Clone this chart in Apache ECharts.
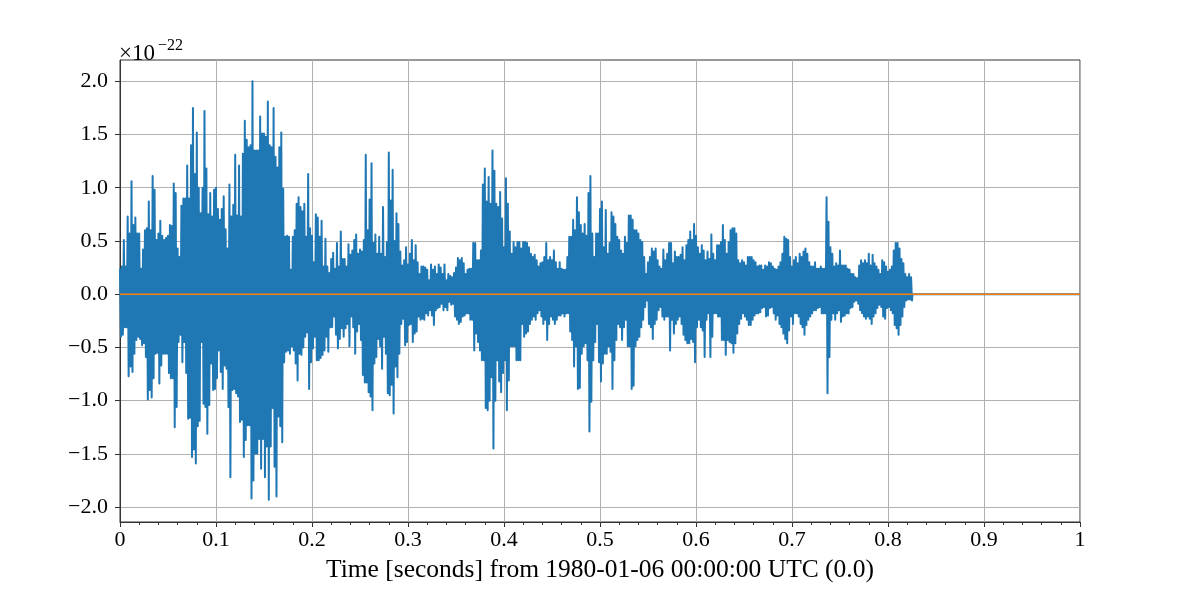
<!DOCTYPE html>
<html>
<head>
<meta charset="utf-8">
<script src="https://cdn.jsdelivr.net/npm/echarts@6/dist/echarts.min.js"></script>
<style>
  html, body { margin: 0; padding: 0; background: #fff; }
  #chart { width: 1200px; height: 600px; }
</style>
</head>
<body>
<div id="chart"></div>
<script>
// ---- data (values in units of 1e-22) ----
const sampleStart = 0;          // seconds
const sampleStep = 0.002;       // seconds between successive crests
const scaleExponent = -22;
const xAxisTitle = 'Time [seconds] from 1980-01-06 00:00:00 UTC (0.0)';
const xTickValues = [0, 0.1, 0.2, 0.3, 0.4, 0.5, 0.6, 0.7, 0.8, 0.9, 1];
const xTickLabels = ['0', '0.1', '0.2', '0.3', '0.4', '0.5', '0.6', '0.7', '0.8', '0.9', '1'];
const yTickValues = [-2, -1.5, -1, -0.5, 0, 0.5, 1, 1.5, 2];
const yTickLabels = ['\u22122.0', '\u22121.5', '\u22121.0', '\u22120.5', '0.0', '0.5', '1.0', '1.5', '2.0'];

// positive crests of the strain signal, one per sampleStep
const upperPeaks = [
  0.24,0.26,0.51,0.26,0.73,0.57,1.06,0.65,0.72,0.57,
  0.57,0.24,0.42,0.60,0.62,0.87,0.60,1.11,0.98,0.51,
  0.57,0.69,0.55,0.51,0.53,0.55,0.65,0.64,1.04,0.95,
  0.43,0.35,0.83,0.90,0.90,1.21,0.90,1.40,1.75,1.13,
  1.52,1.00,0.76,1.00,1.72,1.18,0.75,0.95,0.73,0.98,
  1.00,0.80,0.70,0.80,0.92,0.61,0.43,1.03,0.73,0.84,
  1.31,0.74,1.21,0.73,1.32,1.63,1.45,1.38,1.40,2.00,
  1.35,1.35,1.35,1.67,1.51,1.51,1.48,1.81,1.40,1.38,
  1.75,1.29,1.19,1.38,1.52,0.99,0.54,0.55,0.54,0.23,
  0.54,0.60,0.85,0.91,0.82,0.78,0.85,0.54,1.13,0.62,
  0.55,0.30,0.75,0.72,0.54,0.69,0.26,0.52,0.26,0.20,
  0.33,0.39,0.24,0.48,0.26,0.59,0.33,0.33,0.26,0.47,
  0.37,0.41,0.51,0.56,0.38,0.42,0.40,0.51,1.31,0.60,
  0.89,1.23,0.48,0.56,0.38,0.54,0.38,0.82,0.35,0.49,
  1.33,0.88,1.17,0.50,0.76,0.66,0.40,0.27,0.32,0.44,
  0.28,0.38,0.51,0.32,0.46,0.30,0.19,0.26,0.26,0.25,
  0.23,0.13,0.28,0.23,0.26,0.19,0.28,0.25,0.19,0.28,
  0.13,0.19,0.17,0.16,0.20,0.25,0.34,0.32,0.34,0.29,
  0.19,0.23,0.24,0.24,0.48,0.48,0.32,0.32,0.41,1.03,
  1.18,0.87,1.10,0.85,1.35,1.16,0.85,0.82,0.96,0.71,
  0.44,1.09,0.85,0.59,0.38,0.49,0.44,0.49,0.49,0.43,
  0.49,0.49,0.48,0.44,0.38,0.35,0.37,0.32,0.26,0.29,
  0.30,0.35,0.48,0.32,0.35,0.32,0.41,0.30,0.24,0.30,
  0.24,0.23,0.23,0.35,0.54,0.54,0.70,0.60,0.91,0.77,
  0.65,0.57,0.66,0.55,0.95,1.11,0.57,0.35,0.57,0.57,
  0.80,0.87,0.44,0.79,0.38,0.48,0.77,0.73,0.66,0.54,
  0.51,0.41,0.38,0.54,0.48,0.74,0.74,0.70,0.60,0.60,
  0.57,0.51,0.49,0.35,0.19,0.30,0.35,0.43,0.40,0.43,
  0.32,0.26,0.24,0.42,0.32,0.38,0.48,0.48,0.29,0.40,
  0.35,0.35,0.37,0.44,0.32,0.46,0.51,0.59,0.51,0.66,
  0.55,0.44,0.38,0.46,0.41,0.32,0.40,0.33,0.56,0.38,
  0.32,0.46,0.46,0.49,0.65,0.51,0.38,0.49,0.60,0.62,
  0.62,0.57,0.32,0.29,0.32,0.30,0.27,0.35,0.35,0.35,
  0.32,0.30,0.26,0.27,0.27,0.23,0.27,0.26,0.30,0.29,
  0.26,0.24,0.23,0.26,0.30,0.38,0.54,0.52,0.51,0.35,
  0.26,0.32,0.35,0.29,0.38,0.35,0.40,0.43,0.38,0.30,
  0.26,0.26,0.30,0.24,0.24,0.26,0.24,0.24,0.91,0.68,
  0.44,0.38,0.26,0.29,0.27,0.41,0.27,0.27,0.27,0.24,
  0.23,0.19,0.19,0.16,0.15,0.27,0.32,0.29,0.32,0.29,
  0.38,0.27,0.37,0.29,0.26,0.23,0.19,0.32,0.30,0.26,
  0.21,0.23,0.26,0.41,0.48,0.48,0.43,0.33,0.29,0.19,
  0.16,0.19,0.16
];

// negative troughs, each half a step after the matching crest
const lowerPeaks = [
  -0.40,-0.38,-0.31,-0.31,-0.77,-0.68,-0.73,-0.56,-0.43,-0.40,
  -0.42,-0.48,-0.46,-0.59,-0.99,-0.90,-0.97,-0.79,-0.56,-0.55,
  -0.84,-0.67,-0.56,-0.56,-0.56,-0.74,-0.79,-0.79,-1.25,-1.06,
  -0.45,-0.38,-0.64,-0.45,-0.74,-1.17,-1.16,-1.53,-1.46,-1.59,
  -1.24,-1.19,-0.45,-1.03,-1.06,-1.31,-1.04,-0.65,-0.90,-0.89,
  -0.79,-0.53,-0.73,-0.89,-0.67,-0.70,-1.06,-1.72,-0.90,-0.89,
  -0.93,-0.96,-1.20,-1.18,-1.53,-1.37,-1.23,-1.23,-1.92,-1.75,
  -1.50,-1.50,-1.36,-1.64,-1.36,-1.72,-1.43,-1.93,-1.43,-1.07,
  -1.62,-1.90,-1.15,-1.24,-1.39,-0.64,-0.54,-0.53,-0.56,-0.49,
  -0.53,-0.65,-0.81,-0.56,-0.57,-0.50,-0.40,-0.36,-0.89,-0.64,
  -0.51,-0.40,-0.62,-0.62,-0.60,-0.57,-0.53,-0.40,-0.54,-0.31,
  -0.31,-0.21,-0.38,-0.51,-0.42,-0.32,-0.40,-0.32,-0.28,-0.49,
  -0.21,-0.31,-0.56,-0.35,-0.28,-0.43,-0.76,-0.83,-0.83,-0.92,
  -0.96,-1.09,-0.65,-0.59,-0.42,-0.49,-0.70,-0.40,-0.56,-0.93,
  -0.95,-0.85,-1.12,-0.68,-0.78,-0.56,-0.28,-0.23,-0.48,-0.45,
  -0.29,-0.28,-0.45,-0.37,-0.35,-0.21,-0.24,-0.23,-0.24,-0.18,
  -0.20,-0.15,-0.20,-0.29,-0.15,-0.13,-0.12,-0.09,-0.15,-0.12,
  -0.15,-0.07,-0.10,-0.09,-0.21,-0.24,-0.28,-0.26,-0.21,-0.20,
  -0.18,-0.18,-0.24,-0.24,-0.53,-0.37,-0.45,-0.53,-0.62,-0.62,
  -1.07,-1.09,-1.00,-0.78,-1.45,-1.00,-0.62,-0.82,-0.92,-0.74,
  -0.62,-1.09,-0.81,-0.49,-0.49,-0.49,-0.62,-0.62,-0.62,-0.28,
  -0.40,-0.37,-0.35,-0.28,-0.24,-0.21,-0.24,-0.18,-0.15,-0.21,
  -0.28,-0.24,-0.43,-0.28,-0.21,-0.24,-0.28,-0.24,-0.20,-0.20,
  -0.18,-0.21,-0.18,-0.18,-0.35,-0.43,-0.68,-0.49,-0.89,-0.88,
  -0.56,-0.49,-0.46,-0.62,-1.29,-1.01,-0.62,-0.45,-0.28,-0.64,
  -0.82,-0.65,-0.56,-0.56,-0.49,-0.54,-0.89,-0.62,-0.43,-0.28,
  -0.31,-0.43,-0.31,-0.24,-0.49,-0.49,-0.89,-0.86,-0.49,-0.43,
  -0.40,-0.31,-0.24,-0.12,-0.06,-0.28,-0.31,-0.42,-0.28,-0.24,
  -0.15,-0.12,-0.21,-0.24,-0.21,-0.21,-0.53,-0.24,-0.37,-0.28,
  -0.24,-0.21,-0.28,-0.38,-0.43,-0.46,-0.46,-0.42,-0.45,-0.64,
  -0.31,-0.24,-0.31,-0.34,-0.59,-0.24,-0.18,-0.59,-0.40,-0.18,
  -0.18,-0.21,-0.21,-0.43,-0.43,-0.57,-0.43,-0.45,-0.46,-0.55,
  -0.46,-0.37,-0.28,-0.23,-0.18,-0.21,-0.24,-0.29,-0.29,-0.24,
  -0.20,-0.18,-0.18,-0.17,-0.13,-0.12,-0.21,-0.20,-0.13,-0.12,
  -0.18,-0.24,-0.20,-0.28,-0.31,-0.37,-0.42,-0.46,-0.34,-0.21,
  -0.28,-0.18,-0.18,-0.21,-0.28,-0.31,-0.38,-0.29,-0.24,-0.21,
  -0.18,-0.15,-0.15,-0.13,-0.12,-0.18,-0.18,-0.18,-0.93,-0.59,
  -0.24,-0.18,-0.24,-0.18,-0.15,-0.26,-0.21,-0.20,-0.18,-0.18,
  -0.13,-0.12,-0.07,-0.06,-0.09,-0.15,-0.18,-0.21,-0.23,-0.21,
  -0.23,-0.28,-0.21,-0.18,-0.13,-0.10,-0.12,-0.21,-0.23,-0.13,
  -0.12,-0.15,-0.18,-0.29,-0.32,-0.38,-0.29,-0.21,-0.12,-0.06,
  -0.05,-0.05,-0.06
];

// blue trace is flat (zero padded) after the signal ends
const strainTailTimes = [0.8255, 1];
const strainTailValues = [0, 0];

// second (orange) trace: flat zero over the whole span
const zeroTraceTimes = [0, 1];
const zeroTraceValues = [0, 0];

// ---- build series data ----
const strainData = [];
for (let i = 0; i < upperPeaks.length; i++) {
  const t = sampleStart + i * sampleStep;
  strainData.push([t, upperPeaks[i]]);
  strainData.push([t + sampleStep / 2, lowerPeaks[i]]);
}
strainTailTimes.forEach((t, i) => strainData.push([t, strainTailValues[i]]));
const zeroData = zeroTraceTimes.map((t, i) => [t, zeroTraceValues[i]]);

const FONT = '"Liberation Serif", "DejaVu Serif", serif';
const chart = echarts.init(document.getElementById('chart'), null, { renderer: 'canvas' });

chart.setOption({
  animation: false,
  backgroundColor: '#ffffff',
  title: [
    { text: '\u00d710', left: 119, top: 42, padding: 0,
      textStyle: { fontFamily: FONT, fontSize: 23, lineHeight: 23, fontWeight: 'normal', color: '#000' } },
    { text: '\u2212' + String(-scaleExponent), left: 158, top: 38, padding: 0,
      textStyle: { fontFamily: FONT, fontSize: 16, lineHeight: 16, fontWeight: 'normal', color: '#000' } }
  ],
  grid: {
    left: 120, right: 120, top: 60, bottom: 78,
    containLabel: false, outerBoundsMode: 'none',
    show: true, borderColor: '#333', borderWidth: 1, backgroundColor: 'transparent'
  },
  xAxis: {
    type: 'value',
    min: 0, max: 1, interval: 0.1,
    name: xAxisTitle,
    nameLocation: 'middle',
    nameGap: 35,
    nameTextStyle: { fontFamily: FONT, fontSize: 25.5, lineHeight: 26, color: '#000' },
    axisLine: { show: true, onZero: false, lineStyle: { color: '#333', width: 1 } },
    axisTick: { show: true, inside: false, length: 5, lineStyle: { color: '#333', width: 1 } },
    minorTick: { show: true, splitNumber: 5, length: 3, lineStyle: { color: '#333', width: 1 } },
    axisLabel: {
      margin: 7, fontFamily: FONT, fontSize: 22, color: '#000',
      formatter: v => {
        const k = xTickValues.findIndex(x => Math.abs(x - v) < 1e-9);
        return k >= 0 ? xTickLabels[k] : '';
      }
    },
    splitLine: { show: true, lineStyle: { color: '#b0b0b0', width: 1 } },
    minorSplitLine: { show: false }
  },
  yAxis: {
    type: 'value',
    min: -2.14, max: 2.2, splitNumber: 8,
    axisLine: { show: true, onZero: false, lineStyle: { color: '#333', width: 1 } },
    axisTick: { show: true, inside: false, length: 5, customValues: yTickValues, lineStyle: { color: '#333', width: 1 } },
    axisLabel: {
      margin: 12, fontFamily: FONT, fontSize: 22, color: '#000',
      formatter: v => {
        const k = yTickValues.findIndex(y => Math.abs(y - v) < 1e-9);
        return k >= 0 ? yTickLabels[k] : '';
      }
    },
    splitLine: { show: true, lineStyle: { color: '#b0b0b0', width: 1 } }
  },
  series: [
    {
      type: 'line',
      data: strainData,
      showSymbol: false,
      symbol: 'none',
      sampling: null,
      smooth: false,
      z: 3,
      lineStyle: { color: '#1f77b4', width: 2, join: 'round', cap: 'butt' },
      emphasis: { disabled: true }
    },
    {
      type: 'line',
      data: zeroData,
      showSymbol: false,
      symbol: 'none',
      z: 4,
      lineStyle: { color: '#ff7f0e', width: 1.6 },
      emphasis: { disabled: true }
    }
  ]
});
</script>
</body>
</html>
